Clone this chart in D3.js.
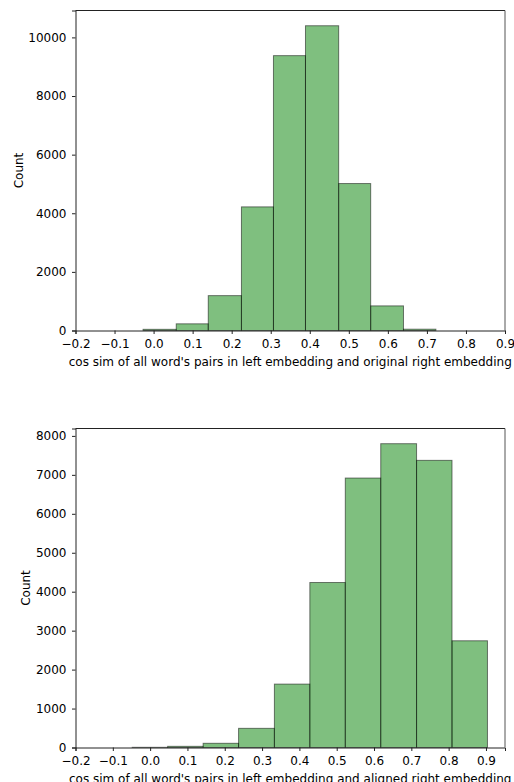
<!DOCTYPE html>
<html lang="en">
<head>
    <meta charset="UTF-8">
    <title>cos sim histograms</title>
    <script src="https://d3js.org/d3.v7.min.js"></script>
    <style>
        body { margin: 0; background: #fff; }
        text { font-family: "DejaVu Sans", sans-serif; font-size: 12px; fill: #000; }
        .bar { fill: green; fill-opacity: .5; stroke: black; stroke-opacity: .5; stroke-width: 1; }
    </style>
</head>
<body>
<svg height="782" width="514"></svg>

<script>
    // top panel: left embedding vs original right embedding
    const origEdges  = [-0.027, 0.058, 0.140, 0.225, 0.307, 0.389, 0.474, 0.556, 0.640, 0.723];
    const origCounts = [40, 228, 1190, 4218, 9378, 10398, 5014, 840, 45];

    // bottom panel: left embedding vs aligned right embedding
    const alignEdges  = [-0.048, 0.047, 0.142, 0.237, 0.333, 0.428, 0.523, 0.618, 0.714, 0.809, 0.904];
    const alignCounts = [5, 30, 108, 492, 1628, 4236, 6918, 7800, 7372, 2740];

    const xTicks = [-0.2, -0.1, 0.0, 0.1, 0.2, 0.3, 0.4, 0.5, 0.6, 0.7, 0.8, 0.9];
    const origYTicks  = [0, 2000, 4000, 6000, 8000, 10000];
    const alignYTicks = [0, 1000, 2000, 3000, 4000, 5000, 6000, 7000, 8000];

    const svg = d3.select("svg");

    function draw(p) {
        const g = svg.append("g");

        const x = d3.scaleLinear().domain(p.xDomain).range([p.left, p.right]);
        const y = d3.scaleLinear()
                    .domain([0, d3.max(p.counts) * 1.05])
                    .range([p.bottom, p.top]);

        const bins = p.counts.map((c, i) => ({x0: p.edges[i], x1: p.edges[i + 1], n: c}));

        g.selectAll("rect.bar")
            .data(bins)
            .enter()
            .append("rect")
            .attr("class", "bar")
            .attr("x", d => x(d.x0))
            .attr("width", d => x(d.x1) - x(d.x0))
            .attr("y", d => y(d.n))
            .attr("height", d => y(0) - y(d.n));

        // frame
        g.append("line").attr("x1", p.left).attr("x2", p.right).attr("y1", p.top).attr("y2", p.top)
            .attr("stroke", "#222").attr("stroke-width", 1);
        g.append("line").attr("x1", p.right).attr("x2", p.right).attr("y1", p.top).attr("y2", p.bottom)
            .attr("stroke", "#555").attr("stroke-width", 1);

        const xAxis = d3.axisBottom(x).tickValues(p.xTicks).tickFormat(d3.format(".1f"))
                        .tickSize(3.5).tickPadding(5);
        const gx = g.append("g").attr("transform", `translate(0,${p.bottom})`).call(xAxis);

        const yAxis = d3.axisLeft(y).tickValues(p.yTicks).tickFormat(d3.format("d"))
                        .tickSize(3.5).tickPadding(5.5);
        const gy = g.append("g").attr("transform", `translate(${p.left},0)`).call(yAxis);

        [gx, gy].forEach(a => {
            a.select(".domain").attr("stroke", "#222");
            a.selectAll(".tick line").attr("stroke", "#222");
            a.selectAll(".tick text").style("font-family", "DejaVu Sans").style("font-size", "12px").attr("fill", "#111");
        });

        g.append("text")
            .attr("x", (p.left + p.right) / 2)
            .attr("y", p.bottom + 35)
            .attr("text-anchor", "middle")
            .attr("fill", "#111")
            .text(p.xLabel);

        g.append("text")
            .attr("transform", `translate(${p.labelX},${(p.top + p.bottom) / 2}) rotate(-90)`)
            .attr("text-anchor", "middle")
            .attr("fill", "#111")
            .text("Count");
    }

    draw({
        edges: origEdges, counts: origCounts, xTicks: xTicks, yTicks: origYTicks,
        xDomain: [-0.2, 0.9], left: 75.5, right: 505, top: 10.5, bottom: 330.5, labelX: 22.5,
        xLabel: "cos sim of all word's pairs in left embedding and original right embedding"
    });

    draw({
        edges: alignEdges, counts: alignCounts, xTicks: xTicks, yTicks: alignYTicks,
        xDomain: [-0.2, 0.951], left: 75.5, right: 505, top: 428.5, bottom: 747.5, labelX: 29.5,
        xLabel: "cos sim of all word's pairs in left embedding and aligned right embedding"
    });
</script>

</body>
</html>
